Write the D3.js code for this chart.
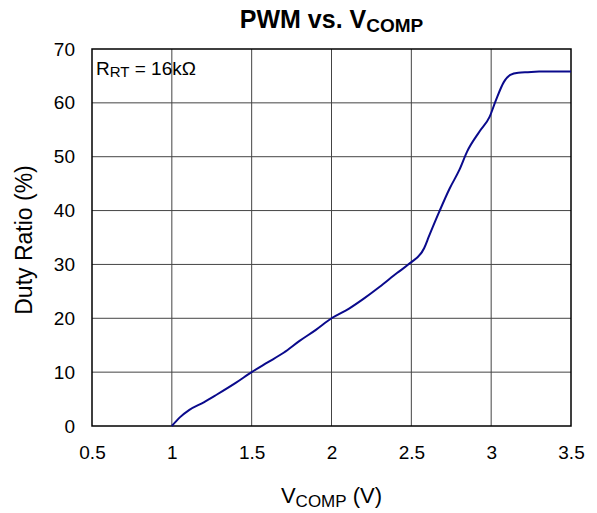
<!DOCTYPE html>
<html>
<head>
<meta charset="utf-8">
<script src="https://cdn.jsdelivr.net/npm/d3@7"></script>
<style>
  body { margin: 0; background: #fff; }
  text { font-family: "Liberation Sans", Arial, sans-serif; fill: #000; }
</style>
</head>
<body>
<script>
// PWM duty ratio vs VCOMP, RRT = 16k
const vcomp = [1.0, 1.05, 1.11, 1.2, 1.28, 1.4, 1.5, 1.6, 1.7, 1.8, 1.9, 2.0, 2.11, 2.2, 2.3, 2.41, 2.49, 2.58, 2.61, 2.675, 2.74, 2.8, 2.85, 2.925, 2.99, 3.03, 3.08, 3.12, 3.17, 3.23, 3.3, 3.4, 3.5];
const duty  = [0, 1.6, 3.0, 4.4, 5.8, 8.0, 10.0, 11.8, 13.6, 15.8, 17.8, 20.0, 21.8, 23.6, 25.8, 28.4, 30.2, 33.0, 35.2, 39.8, 44.1, 47.5, 51.0, 54.6, 57.4, 60.5, 63.9, 65.2, 65.6, 65.7, 65.8, 65.8, 65.8];
const xTicks = [0.5, 1, 1.5, 2, 2.5, 3, 3.5];
const yTicks = [0, 10, 20, 30, 40, 50, 60, 70];

const W = 597, H = 513;
const m = { left: 92, right: 571, top: 49, bottom: 426 };

const svg = d3.select("body").append("svg")
  .attr("width", W)
  .attr("height", H);

const x = d3.scaleLinear().domain([0.5, 3.5]).range([m.left, m.right]);
const y = d3.scaleLinear().domain([0, 70]).range([m.bottom, m.top]);

// grid
svg.append("g")
  .selectAll("line")
  .data(xTicks.slice(1, -1))
  .enter().append("line")
  .attr("x1", d => x(d)).attr("x2", d => x(d))
  .attr("y1", m.top).attr("y2", m.bottom)
  .attr("stroke", "#444").attr("stroke-width", 1);

svg.append("g")
  .selectAll("line")
  .data(yTicks.slice(1, -1))
  .enter().append("line")
  .attr("x1", m.left).attr("x2", m.right)
  .attr("y1", d => y(d)).attr("y2", d => y(d))
  .attr("stroke", "#444").attr("stroke-width", 1);

// frame
svg.append("rect")
  .attr("x", m.left).attr("y", m.top)
  .attr("width", m.right - m.left).attr("height", m.bottom - m.top)
  .attr("fill", "none").attr("stroke", "#000").attr("stroke-width", 1.5);

// axes (labels only)
const xAxis = svg.append("g")
  .attr("transform", `translate(0,${m.bottom})`)
  .call(d3.axisBottom(x).tickValues(xTicks).tickSize(0).tickPadding(20).tickFormat(d3.format("")));
const yAxis = svg.append("g")
  .attr("transform", `translate(${m.left},0)`)
  .call(d3.axisLeft(y).tickValues(yTicks).tickSize(0).tickPadding(17));
[xAxis, yAxis].forEach(a => {
  a.select(".domain").remove();
  a.selectAll("text").attr("font-size", 19).attr("font-family", "Liberation Sans, Arial, sans-serif").attr("fill", "#000");
});

// curve
const line = d3.line()
  .x((d, i) => x(vcomp[i]))
  .y(d => y(d))
  .curve(d3.curveMonotoneX);

svg.append("path")
  .datum(duty)
  .attr("d", line)
  .attr("fill", "none")
  .attr("stroke", "#0a0a8c")
  .attr("stroke-width", 2);

// title
const title = svg.append("text")
  .attr("x", (m.left + m.right) / 2).attr("y", 28)
  .attr("text-anchor", "middle")
  .attr("font-size", 25).attr("font-weight", "bold");
title.append("tspan").text("PWM vs. V");
title.append("tspan").attr("font-size", 19).attr("dy", 4).text("COMP");

// x label
const xl = svg.append("text")
  .attr("x", (m.left + m.right) / 2).attr("y", 503)
  .attr("text-anchor", "middle")
  .attr("font-size", 22);
xl.append("tspan").text("V");
xl.append("tspan").attr("font-size", 17).attr("dy", 4).text("COMP");
xl.append("tspan").attr("dy", -4).text(" (V)");

// y label
svg.append("text")
  .attr("transform", `translate(32,240) rotate(-90)`)
  .attr("text-anchor", "middle")
  .attr("font-size", 23)
  .text("Duty Ratio (%)");

// annotation
const ann = svg.append("text")
  .attr("x", m.left + 4).attr("y", 75)
  .attr("font-size", 19);
ann.append("tspan").text("R");
ann.append("tspan").attr("font-size", 15).attr("dy", 2).text("RT");
ann.append("tspan").attr("dy", -2).text(" = 16kΩ");
</script>
</body>
</html>
